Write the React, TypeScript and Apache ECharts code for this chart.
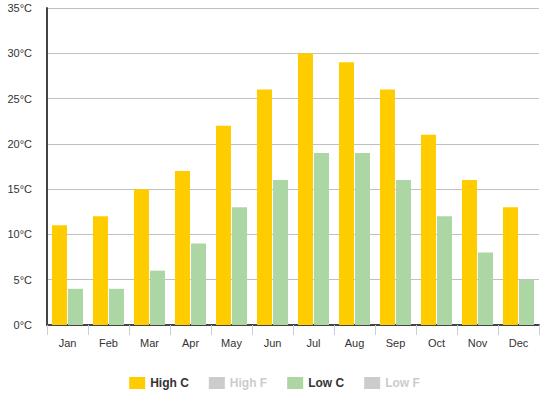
import React, { useEffect, useRef } from "react";
import * as echarts from "echarts";

const months = ["Jan", "Feb", "Mar", "Apr", "May", "Jun", "Jul", "Aug", "Sep", "Oct", "Nov", "Dec"];
const highC = [11, 12, 15, 17, 22, 26, 30, 29, 26, 21, 16, 13];
const highF = [52, 54, 59, 63, 72, 79, 86, 84, 79, 70, 61, 55];
const lowC = [4, 4, 6, 9, 13, 16, 19, 19, 16, 12, 8, 5];
const lowF = [39, 39, 43, 48, 55, 61, 66, 66, 61, 54, 46, 41];

const FONT = "'Liberation Sans', Arial, sans-serif";

export default function App() {
  const ref = useRef<HTMLDivElement>(null);
  useEffect(() => {
    document.body.style.margin = "0";
    const chart = echarts.init(ref.current!, null, { renderer: "svg" });
    chart.setOption({
      animation: false,
      textStyle: { fontFamily: FONT },
      grid: { left: 47, right: 10, top: 8, bottom: 71 },
      legend: {
        top: 372,
        left: "center",
        itemWidth: 16,
        itemHeight: 12,
        itemGap: 20,
        icon: "rect",
        inactiveColor: "#ccc",
        textStyle: { fontFamily: FONT, fontSize: 12, fontWeight: "bold", color: "#333" },
        data: ["High C", "High F", "Low C", "Low F"],
        selected: { "High C": true, "High F": false, "Low C": true, "Low F": false },
      },
      xAxis: {
        type: "category",
        data: months,
        axisLine: { lineStyle: { color: "#444", width: 2 } },
        axisTick: { show: true, length: 10, lineStyle: { color: "#C0D0E0" } },
        axisLabel: { color: "#333", fontSize: 11, fontFamily: FONT, margin: 12 },
      },
      yAxis: {
        type: "value",
        min: 0,
        max: 35,
        interval: 5,
        axisLine: { show: true, lineStyle: { color: "#444", width: 2 } },
        axisTick: { show: false },
        splitLine: { lineStyle: { color: "#C0C0C0", width: 1 } },
        axisLabel: { color: "#333", fontSize: 11, fontFamily: FONT, margin: 15, formatter: "{value}°C" },
      },
      series: [
        { name: "High C", type: "bar", data: highC, barWidth: 15, barGap: "7%", itemStyle: { color: "#FFCC00" } },
        { name: "High F", type: "bar", data: highF, barWidth: 15, barGap: "7%", itemStyle: { color: "#cccccc" } },
        { name: "Low C", type: "bar", data: lowC, barWidth: 15, barGap: "7%", itemStyle: { color: "#ADD6A5" } },
        { name: "Low F", type: "bar", data: lowF, barWidth: 15, barGap: "7%", itemStyle: { color: "#cccccc" } },
      ],
    });
    return () => chart.dispose();
  }, []);
  return <div ref={ref} style={{ width: 549, height: 396 }} />;
}
